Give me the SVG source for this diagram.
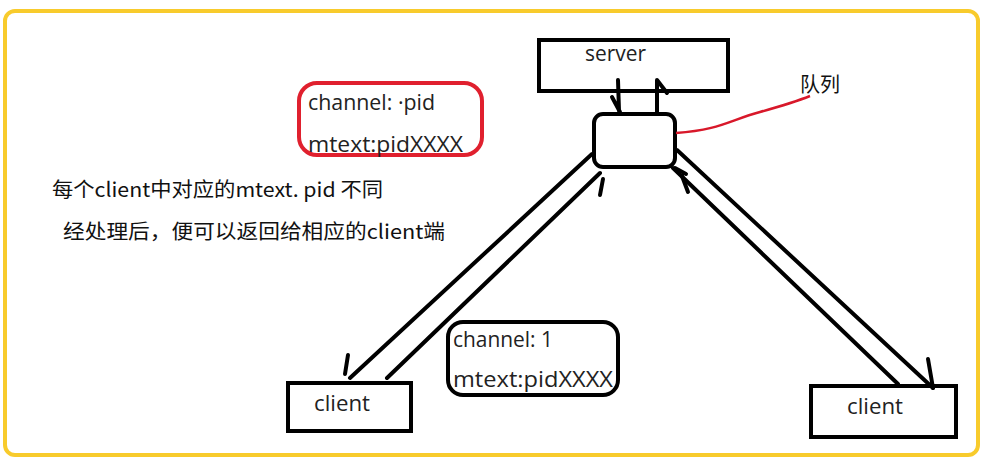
<svg xmlns="http://www.w3.org/2000/svg" width="991" height="463" viewBox="0 0 991 463">
<style>
.box{fill:#fff;stroke:#000;stroke-width:4}
.ln{fill:none;stroke:#000;stroke-width:4;stroke-linecap:round;stroke-linejoin:round}
.t{font-family:"Open Sans","Noto Sans","Noto Sans CJK SC",sans-serif;fill:#222;font-size:21px}
.cjk{font-family:"Noto Sans CJK SC","Open Sans",sans-serif;fill:#111;font-size:20px}
</style>
<rect width="991" height="463" fill="#fff"/>
<rect x="5" y="11" width="973" height="444" rx="10" fill="none" stroke="#F8CB2C" stroke-width="4"/>
<g id="server"><rect class="box" x="539" y="40" width="189" height="51"/><text class="t" x="585" y="61" font-size="20" textLength="61" lengthAdjust="spacingAndGlyphs">server</text></g>
<g id="queue"><rect class="box" x="594" y="114" width="81" height="53" rx="9"/></g>
<g id="queue-label"><text class="cjk" x="800" y="92" font-size="21" textLength="40" lengthAdjust="spacingAndGlyphs">队列</text></g>
<g id="client-left"><rect class="box" x="288" y="383" width="123" height="48"/><text class="t" x="314" y="411" textLength="56" lengthAdjust="spacingAndGlyphs">client</text></g>
<g id="client-right"><rect class="box" x="811" y="386" width="145" height="51"/><text class="t" x="847" y="414" textLength="56" lengthAdjust="spacingAndGlyphs">client</text></g>
<g id="note-red"><rect x="299" y="83" width="183" height="72" rx="18" fill="none" stroke="#E0202E" stroke-width="4"/><text class="t" x="308" y="110" textLength="127" lengthAdjust="spacingAndGlyphs">channel: ·pid</text><text class="t" x="308" y="152" textLength="155" lengthAdjust="spacingAndGlyphs">mtext:pidXXXX</text></g>
<g id="note-black"><rect x="448" y="322" width="170" height="73" rx="15" fill="none" stroke="#000" stroke-width="4"/><text class="t" x="453" y="347" textLength="100" lengthAdjust="spacingAndGlyphs">channel: 1</text><text class="t" x="453" y="387" textLength="160" lengthAdjust="spacingAndGlyphs">mtext:pidXXXX</text></g>
<g id="desc"><text class="cjk" x="52" y="197" textLength="331" lengthAdjust="spacingAndGlyphs">每个client中对应的mtext. pid 不同</text><text class="cjk" x="63" y="239" textLength="382" lengthAdjust="spacingAndGlyphs">经处理后，便可以返回给相应的client端</text></g>
<g id="connectors">
<path class="ln" d="M618,80 L619,111 M612,97 L620,112"/>
<path class="ln" d="M657,113 L657,80 L667,93"/>
<path d="M676,133 C720,130 730,120 760,112 C785,105 800,100 810,96" fill="none" stroke="#D8182A" stroke-width="2.5"/>
<path class="ln" d="M592,154 L350,378"/>
<path class="ln" d="M600,173 L387,378"/>
<path class="ln" d="M603,179 L600,195"/>
<path class="ln" d="M348,355 L345,374"/>
<path class="ln" d="M677,150 L933,388"/>
<path class="ln" d="M673,168 L898,384"/>
<path class="ln" d="M675,168 L686,174 M682,176 L688,192"/>
<path class="ln" d="M928,359 L933,388"/>
</g>
</svg>
